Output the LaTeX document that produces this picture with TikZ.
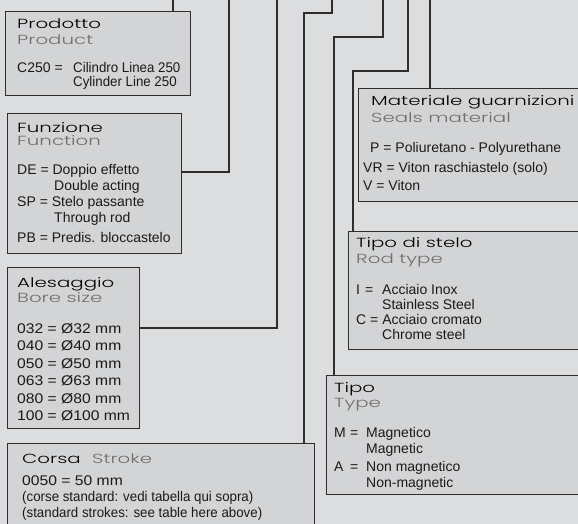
\documentclass[tikz,border=0pt]{standalone}
\usepackage{fontspec}
\setmainfont{Liberation Sans}
\newfontfamily\bodyf[FakeStretch=1.0]{Liberation Sans}
\newfontfamily\bodyn[FakeStretch=0.95]{Liberation Sans}
\newfontfamily\bodyw[FakeStretch=1.12]{Liberation Sans}
\newfontfamily\titf[FakeStretch=1.5]{Poppins Light}
\definecolor{bgc}{HTML}{DCDDDF}
\definecolor{boxc}{HTML}{D3D4D6}
\definecolor{linec}{HTML}{2E2E2E}
\definecolor{subc}{HTML}{6E6E6E}
\definecolor{txtc}{HTML}{1A1A1A}
\begin{document}
\begin{tikzpicture}[x=1pt,y=-1pt,
  box/.style={draw=linec, fill=boxc, line width=1.3pt, anchor=north west, inner sep=0pt},
  conn/.style={draw=linec, line width=1.3pt},
  ttl/.style={anchor=base west, inner sep=0pt, text=black, font=\titf\fontsize{13.2}{15}\selectfont},
  sub/.style={anchor=base west, inner sep=0pt, text=subc, font=\titf\fontsize{13.2}{15}\selectfont},
  txt/.style={anchor=base west, inner sep=0pt, text=txtc, font=\bodyf\fontsize{14}{16}\selectfont},
  txtn/.style={txt, font=\bodyn\fontsize{14}{16}\selectfont},
  txtw/.style={txt, font=\bodyw\fontsize{14}{16}\selectfont}]
\fill[bgc] (0,0) rectangle (578,524);
\useasboundingbox (0,0) rectangle (578,524);

% boxes
\node[box, minimum width=185pt, minimum height=84pt] (prod) at (5,11) {};
\node[box, minimum width=174pt, minimum height=140pt] (funz) at (7,113) {};
\node[box, minimum width=132pt, minimum height=161pt] (ales) at (7,267) {};
\node[box, minimum width=307pt, minimum height=100pt] (corsa) at (7,443) {};
\node[box, minimum width=240pt, minimum height=113pt] (mat) at (358,88) {};
\node[box, minimum width=240pt, minimum height=118pt] (stelo) at (348,231) {};
\node[box, minimum width=270pt, minimum height=119pt] (tipo) at (326,375) {};

% connectors
\coordinate (c1) at (173,0);
\draw[conn] (c1) -- (c1 |- prod.north);
\coordinate (c2) at (229,0);
\draw[conn] (c2) -- (c2 |- 0,172) -- (funz.east |- 0,172);
\coordinate (c3) at (277,0);
\draw[conn] (c3) -- (c3 |- 0,328) -- (ales.east |- 0,328);
\coordinate (c4) at (332,0);
\coordinate (c4b) at (304,13);
\draw[conn] (c4) -- (c4 |- c4b) -- (c4b) -- (c4b |- corsa.north);
\coordinate (c5) at (383,0);
\coordinate (c5b) at (334,37);
\draw[conn] (c5) -- (c5 |- c5b) -- (c5b) -- (c5b |- tipo.north);
\coordinate (c6) at (408,0);
\coordinate (c6b) at (353,71);
\draw[conn] (c6) -- (c6 |- c6b) -- (c6b) -- (c6b |- stelo.north);
\coordinate (c7) at (430,0);
\draw[conn] (c7) -- (c7 |- mat.north);

% Prodotto
\node[ttl] (prodT) at (17,29) {Prodotto};
\node[sub] (prodS) at (17,45) {Product};
\node[txt] (prodA) at (17,73) {C250 =};
\node[txtn] (prodB) at (73,73) {Cilindro Linea 250};
\node[txtn] (prodC) at (73,87) {Cylinder Line 250};

% Funzione
\node[ttl] (funzT) at (17,132) {Funzione};
\node[sub] (funzS) at (17,146) {Function};
\node[txt] (funzA) at (17,174) {DE = Doppio effetto};
\node[txt] (funzB) at (54,190) {Double acting};
\node[txt] (funzC) at (17,206) {SP = Stelo passante};
\node[txt] (funzD) at (54,222) {Through rod};
\node[txt] (funzE) at (17,242) {PB = Predis. bloccastelo};

% Alesaggio
\node[ttl] (alesT) at (17,287) {Alesaggio};
\node[sub] (alesS) at (17,302) {Bore size};
\node[txtw] (ales1) at (17,333) {032 = Ø32 mm};
\node[txtw] (ales2) at (17,350) {040 = Ø40 mm};
\node[txtw] (ales3) at (17,368) {050 = Ø50 mm};
\node[txtw] (ales4) at (17,385) {063 = Ø63 mm};
\node[txtw] (ales5) at (17,403) {080 = Ø80 mm};
\node[txtw] (ales6) at (17,420) {100 = Ø100 mm};

% Corsa
\node[ttl] (corsaT) at (22,463) {Corsa};
\node[sub] (corsaS) at (92,463) {Stroke};
\node[txtw] (corsa1) at (22,485) {0050 = 50 mm};
\node[txtn] (corsa2) at (22,501) {(corse standard: vedi tabella qui sopra)};
\node[txtn] (corsa3) at (22,517) {(standard strokes: see table here above)};

% Materiale guarnizioni
\node[ttl] (matT) at (371,106) {Materiale guarnizioni};
\node[sub] (matS) at (371,123) {Seals material};
\node[txt] (mat1) at (370,153) {P = Poliuretano - Polyurethane};
\node[txt] (mat2) at (363,172) {VR = Viton raschiastelo (solo)};
\node[txt] (mat3) at (363,190) {V = Viton};

% Tipo di stelo
\node[ttl] (steloT) at (356,247) {Tipo di stelo};
\node[sub] (steloS) at (356,263) {Rod type};
\node[txt] (stelo1) at (356,294) {I};
\node[txt] (stelo2) at (365,294) {=};
\node[txt] (stelo3) at (382,294) {Acciaio Inox};
\node[txt] (stelo4) at (382,309) {Stainless Steel};
\node[txt] (stelo5) at (356,324) {C = Acciaio cromato};
\node[txt] (stelo6) at (382,339) {Chrome steel};

% Tipo
\node[ttl] (tipoT) at (334,392) {Tipo};
\node[sub] (tipoS) at (334,407) {Type};
\node[txt] (tipo1) at (334,437) {M};
\node[txt] (tipo2) at (350,437) {=};
\node[txt] (tipo3) at (366,437) {Magnetico};
\node[txt] (tipo4) at (366,453) {Magnetic};
\node[txt] (tipo5) at (334,471) {A};
\node[txt] (tipo6) at (350,471) {=};
\node[txt] (tipo7) at (366,471) {Non magnetico};
\node[txt] (tipo8) at (366,487) {Non-magnetic};
\end{tikzpicture}
\end{document}
